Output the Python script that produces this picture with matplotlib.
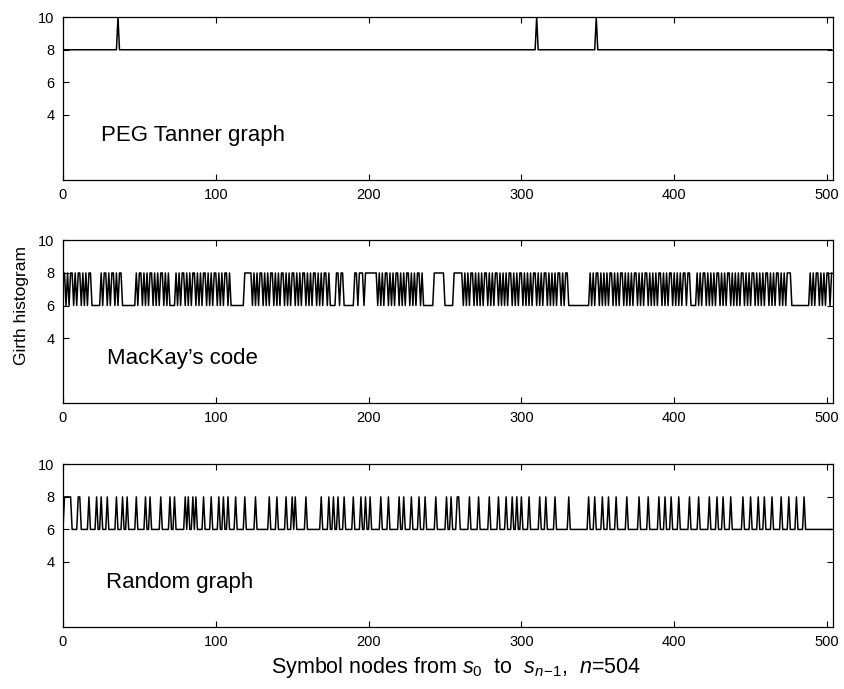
import numpy as np
import matplotlib
matplotlib.use("Agg")
import matplotlib.pyplot as plt

plt.rcParams["font.family"] = ["Liberation Sans", "DejaVu Sans"]
plt.rcParams["mathtext.fontset"] = "custom"
plt.rcParams["mathtext.rm"] = "Liberation Sans"
plt.rcParams["mathtext.it"] = "Liberation Sans:italic"

N_NODES = 504

# PEG Tanner graph: girth 8 at every symbol node, 10 at a few
PEG_BASE = 8
PEG_GIRTH10 = [36, 310, 349]

# MacKay's code: runs (first, last) of nodes with girth 8, the rest are 6
MACKAY_BASE = 6
MACKAY_GIRTH8 = [
    (0, 1), (3, 3), (5, 6), (8, 8), (10, 11), (13, 13), (15, 15), (17, 18),
    (25, 25), (27, 28), (30, 30), (32, 33), (35, 35), (37, 38),
    (48, 48), (50, 51), (53, 53), (55, 55), (57, 58), (60, 60), (62, 62), (64, 65),
    (67, 67), (69, 69),
    (74, 74), (76, 76), (78, 79), (81, 81), (83, 83), (85, 86), (88, 88), (90, 90),
    (92, 93), (95, 95), (97, 97), (99, 100), (102, 102), (104, 104), (106, 107),
    (109, 109),
    (119, 123), (125, 125), (127, 127), (129, 130), (132, 132), (134, 134), (136, 137),
    (139, 139), (141, 141), (143, 144), (146, 146), (148, 148), (150, 151), (153, 153),
    (155, 155), (157, 158), (160, 160), (162, 162), (164, 165), (167, 167), (169, 169),
    (171, 172), (174, 174),
    (179, 180), (182, 183), (191, 192), (194, 196), (198, 205),
    (207, 207), (209, 209), (211, 212), (214, 214), (216, 216), (218, 219), (221, 221),
    (223, 223), (225, 226), (228, 228), (230, 230), (232, 233), (235, 235),
    (243, 249), (256, 261),
    (263, 263), (265, 265), (267, 268), (270, 270), (272, 272), (274, 274), (276, 277),
    (279, 279), (281, 281), (283, 284), (286, 286), (288, 288), (290, 290), (292, 293),
    (295, 295), (297, 297), (299, 300), (302, 302), (304, 304), (306, 306), (308, 309),
    (311, 311), (313, 313), (315, 316), (318, 318), (320, 320), (322, 322), (324, 325),
    (327, 327), (329, 330),
    (345, 345), (347, 347), (349, 350), (352, 352), (354, 354), (356, 356), (358, 359),
    (361, 361), (363, 363), (365, 366), (368, 368), (370, 370), (372, 372), (374, 375),
    (377, 377), (379, 379), (381, 382), (384, 384), (386, 386), (388, 388), (390, 391),
    (393, 393), (395, 395), (397, 398), (400, 400), (402, 402), (404, 404), (406, 407),
    (409, 410),
    (415, 415), (417, 417), (419, 420), (422, 422), (424, 424), (426, 426), (428, 429),
    (431, 431), (433, 433), (435, 436), (438, 438), (440, 440), (442, 442), (444, 445),
    (447, 447), (449, 449), (451, 452), (454, 454), (456, 456), (458, 458), (460, 461),
    (463, 463), (465, 465), (467, 468), (470, 470), (472, 472), (474, 476),
    (489, 489), (491, 491), (493, 494), (496, 496), (498, 498), (500, 501), (503, 503),
]

# Random graph: runs (first, last) of nodes with girth 8, the rest are 6
RANDOM_BASE = 6
RANDOM_GIRTH8 = [
    (1, 5), (10, 11), (17, 17), (22, 22), (25, 25), (29, 29), (35, 35), (39, 39),
    (42, 42), (48, 48), (54, 54), (57, 57), (64, 64), (70, 70), (73, 73), (80, 80),
    (82, 82), (85, 85), (87, 87), (92, 92), (97, 97), (102, 102), (105, 105),
    (108, 108), (113, 113), (119, 119), (126, 126), (135, 135), (140, 140),
    (146, 146), (150, 150), (152, 152), (159, 159), (169, 169), (174, 174),
    (177, 177), (180, 180), (184, 184), (190, 190), (195, 195), (198, 198),
    (201, 201), (208, 208), (213, 213), (220, 220), (223, 223), (228, 228),
    (233, 233), (237, 237), (244, 244), (251, 251), (254, 254), (258, 259),
    (266, 266), (272, 272), (279, 279), (285, 285), (290, 290), (294, 294),
    (297, 297), (300, 300), (305, 305), (312, 312), (316, 316), (322, 322),
    (331, 331), (344, 344), (348, 348), (353, 353), (357, 357), (362, 362),
    (369, 369), (377, 377), (383, 383), (390, 390), (394, 394), (398, 398),
    (403, 403), (410, 410), (416, 416), (423, 423), (428, 428), (432, 432),
    (437, 437), (445, 445), (450, 450), (455, 455), (459, 459), (464, 464),
    (470, 470), (475, 475), (480, 480), (485, 485),
]

PANEL_NAMES = ["PEG Tanner graph", "MacKay\u2019s code", "Random graph"]
NAME_X = [25, 29, 28]


def girth_series(base, runs, value):
    g = np.full(N_NODES, base, dtype=float)
    for first, last in runs:
        g[first:last + 1] = value
    return g


nodes = np.arange(N_NODES)
series = [
    girth_series(PEG_BASE, [(i, i) for i in PEG_GIRTH10], 10),
    girth_series(MACKAY_BASE, MACKAY_GIRTH8, 8),
    girth_series(RANDOM_BASE, RANDOM_GIRTH8, 8),
]

fig = plt.figure(figsize=(8.44, 6.89), dpi=100)
left, width, height = 0.0746, 0.9125, 0.236
bottoms = [0.739, 0.415, 0.090]

for k, (g, name) in enumerate(zip(series, PANEL_NAMES)):
    ax = fig.add_axes([left, bottoms[k], width, height])
    ax.plot(nodes, g, color="black", lw=1.1)
    ax.set_xlim(0, 504)
    ax.set_ylim(0, 10)
    ax.set_xticks([0, 100, 200, 300, 400, 500])
    ax.set_yticks([4, 6, 8, 10])
    ax.tick_params(direction="in", top=True, right=True, length=4,
                   width=0.8, labelsize=10.5, pad=6)
    for sp in ax.spines.values():
        sp.set_linewidth(0.9)
    ax.text(NAME_X[k], 2.75, name, fontsize=16, va="center")
    if k == 1:
        ax.set_ylabel("Girth histogram", fontsize=12.5)
        ax.yaxis.set_label_coords(-0.044, 0.6)

fig.text(0.54, 0.031,
         r"Symbol nodes from $s_0$  to  $s_{n\!-\!1}$,  $n$=504",
         ha="center", va="center", fontsize=15.5)

fig.savefig("out.png", dpi=100)
